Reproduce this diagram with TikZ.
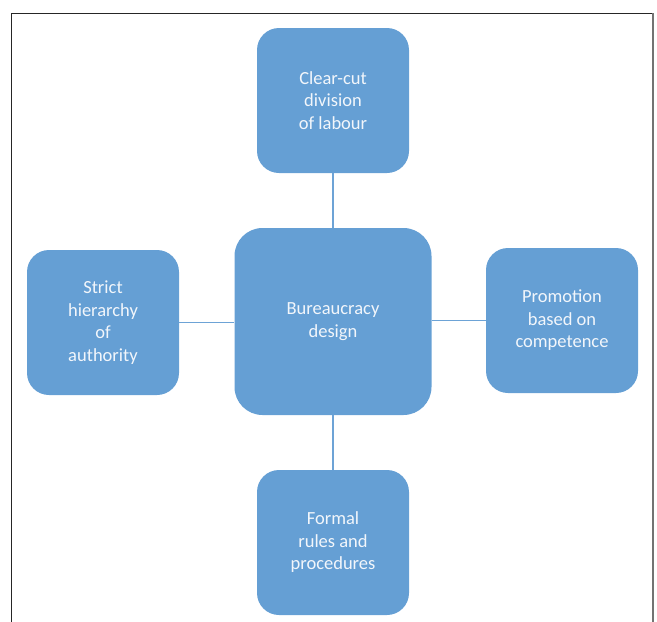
\documentclass[tikz,border=0pt]{standalone}
\usepackage{fontspec}
\setmainfont{Carlito}
\definecolor{boxblue}{HTML}{659FD4}
\definecolor{linkblue}{HTML}{6DA3D6}
\definecolor{txt}{HTML}{F2F6FB}
\begin{document}
\begin{tikzpicture}[x=1pt,y=-1pt,
  box/.style={fill=boxblue, draw=none, rounded corners=22pt, minimum width=152pt, minimum height=145pt,
    align=center, text=txt, font=\fontsize{18.5}{22.5}\selectfont, inner sep=0pt},
  bigbox/.style={box, minimum width=197pt, minimum height=187pt, rounded corners=28pt},
  link/.style={draw=linkblue, line width=1.8pt}]
\useasboundingbox (0,0) rectangle (657,622);
\coordinate (fa) at (11,622);
\coordinate (fb) at (11,13);
\coordinate (fc) at (653,13);
\coordinate (fd) at (653,622);
\draw[line width=1pt, draw=black!85] (fa) -- (fb) -- (fc);
\draw[line width=1.5pt, draw=black!55] (fc) -- (fd);
\node[bigbox] (c) at (333,321.5) {Bureaucracy\\design};
\node[box] (t) at (333,100.5) {Clear-cut\\division\\of labour};
\node[box] (l) at (103,322.5) {Strict\\hierarchy\\of\\authority};
\node[box] (r) at (562,320.5) {Promotion\\based on\\competence};
\node[box] (b) at (333,542.5) {Formal\\rules and\\procedures};
\draw[link] (t.south) -- (c.north);
\draw[link] (c.south) -- (b.north);
\draw[link] (l.east) -- (l.east -| c.west);
\draw[link] (c.east |- r.west) -- (r.west);
\end{tikzpicture}
\end{document}
